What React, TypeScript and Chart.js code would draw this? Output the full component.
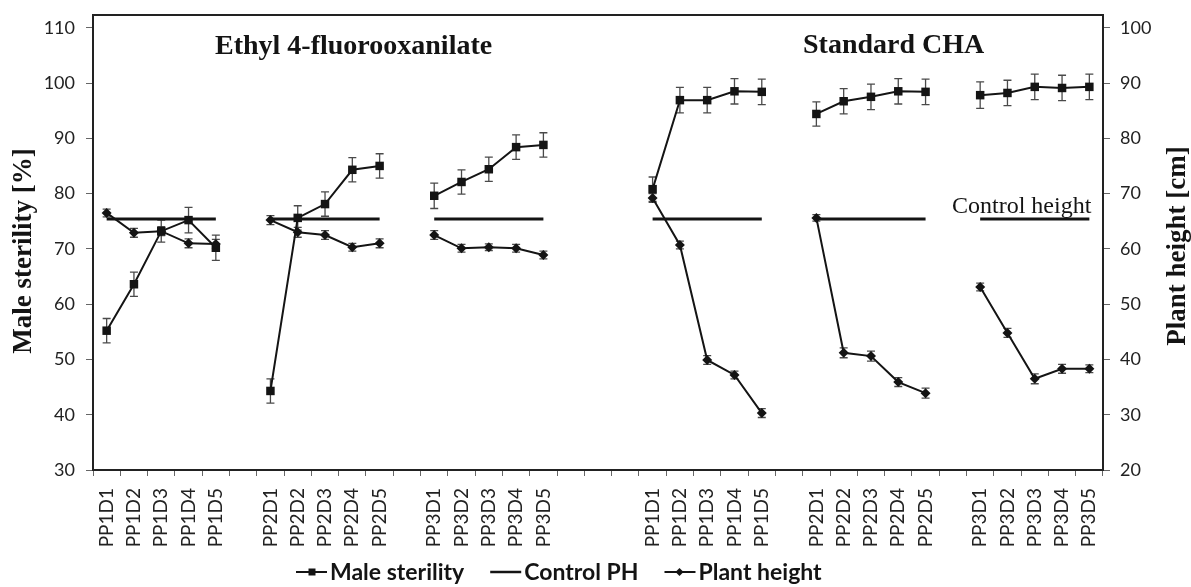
import React, { useEffect, useRef } from 'react';
import { Chart, registerables } from 'chart.js';

Chart.register(...registerables);

const CATEGORIES = [
  'PP1D1', 'PP1D2', 'PP1D3', 'PP1D4', 'PP1D5', '',
  'PP2D1', 'PP2D2', 'PP2D3', 'PP2D4', 'PP2D5', '',
  'PP3D1', 'PP3D2', 'PP3D3', 'PP3D4', 'PP3D5', '', '', '',
  'PP1D1', 'PP1D2', 'PP1D3', 'PP1D4', 'PP1D5', '',
  'PP2D1', 'PP2D2', 'PP2D3', 'PP2D4', 'PP2D5', '',
  'PP3D1', 'PP3D2', 'PP3D3', 'PP3D4', 'PP3D5',
];

const MALE_STERILITY = [
  55.2, 63.6, 73.2, 75.2, 70.2, null,
  44.3, 75.6, 78.1, 84.3, 85.0, null,
  79.6, 82.1, 84.4, 88.4, 88.8, null, null, null,
  80.8, 96.9, 96.9, 98.5, 98.4, null,
  94.4, 96.7, 97.5, 98.5, 98.4, null,
  97.8, 98.2, 99.3, 99.1, 99.3,
];

const MALE_STERILITY_ERR = [
  2.2, 2.2, 2.0, 2.3, 2.3, null,
  2.2, 2.2, 2.2, 2.2, 2.2, null,
  2.3, 2.2, 2.2, 2.2, 2.2, null, null, null,
  2.2, 2.3, 2.3, 2.3, 2.3, null,
  2.2, 2.3, 2.3, 2.3, 2.3, null,
  2.4, 2.3, 2.3, 2.3, 2.3,
];

const PLANT_HEIGHT = [
  66.5, 62.9, 63.2, 61.0, 60.9, null,
  65.2, 63.0, 62.5, 60.3, 61.0, null,
  62.5, 60.1, 60.3, 60.1, 58.9, null, null, null,
  69.2, 60.7, 39.9, 37.2, 30.3, null,
  65.6, 41.2, 40.6, 35.9, 33.9, null,
  53.1, 44.8, 36.5, 38.3, 38.3,
];

const PLANT_HEIGHT_ERR = [
  0.7, 0.8, 0.8, 0.8, 0.8, null,
  0.8, 0.9, 0.8, 0.7, 0.8, null,
  0.8, 0.7, 0.6, 0.7, 0.7, null, null, null,
  0.8, 0.7, 0.8, 0.7, 0.8, null,
  0.6, 0.9, 0.9, 0.8, 0.9, null,
  0.7, 0.8, 0.9, 0.8, 0.7,
];

const CONTROL_PH = [
  65.4, 65.4, 65.4, 65.4, 65.4, null,
  65.4, 65.4, 65.4, 65.4, 65.4, null,
  65.4, 65.4, 65.4, 65.4, 65.4, null, null, null,
  65.4, 65.4, 65.4, 65.4, 65.4, null,
  65.4, 65.4, 65.4, 65.4, 65.4, null,
  65.4, 65.4, 65.4, 65.4, 65.4,
];

const LEFT_TICKS = [30, 40, 50, 60, 70, 80, 90, 100, 110];
const RIGHT_TICKS = [20, 30, 40, 50, 60, 70, 80, 90, 100];

const SERIES_NAMES = ['Male sterility', 'Control PH', 'Plant height'];
const LEFT_TITLE = 'Male sterility [%]';
const RIGHT_TITLE = 'Plant height [cm]';
const PANEL_TITLES = ['Ethyl 4-fluorooxanilate', 'Standard CHA'];
const CONTROL_LABEL = 'Control height';

const INK = '#141414';

function drawMarker(ctx: CanvasRenderingContext2D, kind: string, x: number, y: number, s: number) {
  ctx.fillStyle = INK;
  ctx.beginPath();
  if (kind === 'rect') {
    ctx.rect(x - s, y - s, 2 * s, 2 * s);
  } else if (kind === 'rectRot') {
    ctx.moveTo(x - s, y);
    ctx.lineTo(x, y - s);
    ctx.lineTo(x + s, y);
    ctx.lineTo(x, y + s);
    ctx.closePath();
  }
  ctx.fill();
}

const overlayPlugin = {
  id: 'overlay',
  beforeDatasetsDraw(chart: any) {
    const ctx: CanvasRenderingContext2D = chart.ctx;
    const xs = chart.scales.x;
    const draw = (vals: (number | null)[], errs: (number | null)[], scale: any) => {
      vals.forEach((v, i) => {
        const e = errs[i];
        if (v == null || e == null) return;
        const px = xs.getPixelForValue(i);
        const yt = scale.getPixelForValue(v + e);
        const yb = scale.getPixelForValue(v - e);
        ctx.beginPath();
        ctx.moveTo(px, yt);
        ctx.lineTo(px, yb);
        ctx.moveTo(px - 4, yt);
        ctx.lineTo(px + 4, yt);
        ctx.moveTo(px - 4, yb);
        ctx.lineTo(px + 4, yb);
        ctx.stroke();
      });
    };
    ctx.save();
    ctx.strokeStyle = '#4a4a4a';
    ctx.lineWidth = 1.3;
    draw(MALE_STERILITY, MALE_STERILITY_ERR, chart.scales.y);
    draw(PLANT_HEIGHT, PLANT_HEIGHT_ERR, chart.scales.y1);
    ctx.restore();
  },
  afterDraw(chart: any) {
    const ctx: CanvasRenderingContext2D = chart.ctx;
    const ca = chart.chartArea;
    ctx.save();
    // top frame line
    ctx.strokeStyle = '#222';
    ctx.lineWidth = 2;
    ctx.beginPath();
    ctx.moveTo(ca.left - 1, ca.top);
    ctx.lineTo(ca.right + 1, ca.top);
    ctx.stroke();

    ctx.fillStyle = INK;
    // axis titles
    ctx.font = 'bold 27px "Liberation Serif"';
    ctx.textAlign = 'center';
    ctx.textBaseline = 'middle';
    ctx.save();
    ctx.translate(24, 251);
    ctx.rotate(-Math.PI / 2);
    ctx.fillText(LEFT_TITLE, 0, 0);
    ctx.restore();
    ctx.save();
    ctx.translate(1178, 246);
    ctx.rotate(-Math.PI / 2);
    ctx.fillText(RIGHT_TITLE, 0, 0);
    ctx.restore();

    // panel titles
    ctx.textAlign = 'left';
    ctx.textBaseline = 'alphabetic';
    ctx.font = 'bold 28px "Liberation Serif"';
    ctx.fillText(PANEL_TITLES[0], 215, 54);
    ctx.fillText(PANEL_TITLES[1], 803, 53);
    ctx.font = '24px "Liberation Serif"';
    ctx.fillText(CONTROL_LABEL, 952, 213);

    // legend
    const ly = 572;
    let lx = 296;
    ctx.font = 'bold 23px Lato';
    const markers = ['rect', 'none', 'rectRot'];
    SERIES_NAMES.forEach((name, k) => {
      ctx.strokeStyle = INK;
      ctx.lineWidth = k === 1 ? 2.5 : 2;
      ctx.beginPath();
      ctx.moveTo(lx, ly);
      ctx.lineTo(lx + 31, ly);
      ctx.stroke();
      if (markers[k] === 'rect') drawMarker(ctx, 'rect', lx + 16, ly, 3.5);
      if (markers[k] === 'rectRot') drawMarker(ctx, 'rectRot', lx + 15, ly, 4);
      ctx.fillStyle = INK;
      ctx.fillText(name, lx + 34, 580);
      lx += 34 + ctx.measureText(name).width + 26;
    });
    ctx.restore();
  },
};

export default function App() {
  const ref = useRef<HTMLCanvasElement | null>(null);

  useEffect(() => {
    if (!ref.current) return;
    const tickFont = { family: 'Lato', size: 18 };
    const xTickFont = { family: 'Lato', size: 19 };
    const noPad = (s: any, w: number) => {
      s.width = w;
      s.paddingTop = 0;
      s.paddingBottom = 0;
    };
    const chart = new Chart(ref.current, {
      type: 'line',
      data: {
        labels: CATEGORIES,
        datasets: [
          {
            label: SERIES_NAMES[1],
            data: CONTROL_PH,
            yAxisID: 'y1',
            borderColor: INK,
            borderWidth: 3,
            pointRadius: 0,
            spanGaps: false,
          },
          {
            label: SERIES_NAMES[2],
            data: PLANT_HEIGHT,
            yAxisID: 'y1',
            borderColor: INK,
            borderWidth: 2,
            pointStyle: 'rectRot',
            pointRadius: 5,
            pointBackgroundColor: INK,
            pointBorderColor: INK,
            pointBorderWidth: 0,
            spanGaps: false,
          },
          {
            label: SERIES_NAMES[0],
            data: MALE_STERILITY,
            yAxisID: 'y',
            borderColor: INK,
            borderWidth: 2,
            pointStyle: 'rect',
            pointRadius: 6,
            pointBackgroundColor: INK,
            pointBorderColor: INK,
            pointBorderWidth: 0,
            spanGaps: false,
          },
        ],
      },
      options: {
        animation: false,
        responsive: false,
        devicePixelRatio: 1,
        layout: { padding: { top: 15, bottom: 25, left: 0, right: 0 } },
        plugins: {
          legend: { display: false },
          tooltip: { enabled: false },
        },
        scales: {
          x: {
            type: 'category',
            offset: true,
            grid: {
              display: true,
              offset: true,
              drawOnChartArea: false,
              drawTicks: true,
              tickLength: 6,
              color: '#666',
            },
            border: { display: true, color: '#222', width: 2 },
            ticks: {
              autoSkip: false,
              maxRotation: 90,
              minRotation: 90,
              padding: 12,
              color: '#222',
              font: xTickFont,
            },
            afterFit: (s: any) => {
              s.height = 92;
              s.paddingLeft = 0;
              s.paddingRight = 0;
            },
          },
          y: {
            type: 'linear',
            position: 'left',
            min: 30,
            max: 112.3,
            afterBuildTicks: (s: any) => { s.ticks = LEFT_TICKS.map((v) => ({ value: v })); },
            grid: { display: true, drawOnChartArea: false, tickLength: 7, color: '#666' },
            border: { display: true, color: '#222', width: 2 },
            ticks: { padding: 11, color: '#222', font: tickFont },
            afterFit: (s: any) => noPad(s, 93),
          },
          y1: {
            type: 'linear',
            position: 'right',
            min: 20,
            max: 102.3,
            afterBuildTicks: (s: any) => { s.ticks = RIGHT_TICKS.map((v) => ({ value: v })); },
            grid: { display: true, drawOnChartArea: false, tickLength: 7, color: '#666' },
            border: { display: true, color: '#222', width: 2 },
            ticks: { padding: 10, color: '#222', font: tickFont },
            afterFit: (s: any) => noPad(s, 88),
          },
        },
      },
      plugins: [overlayPlugin],
    });
    return () => chart.destroy();
  }, []);

  return (
    <div style={{ position: 'fixed', left: 0, top: 0, width: 1191, height: 587, background: '#fff' }}>
      <canvas ref={ref} width={1191} height={587} style={{ display: 'block', width: 1191, height: 587 }} />
    </div>
  );
}
